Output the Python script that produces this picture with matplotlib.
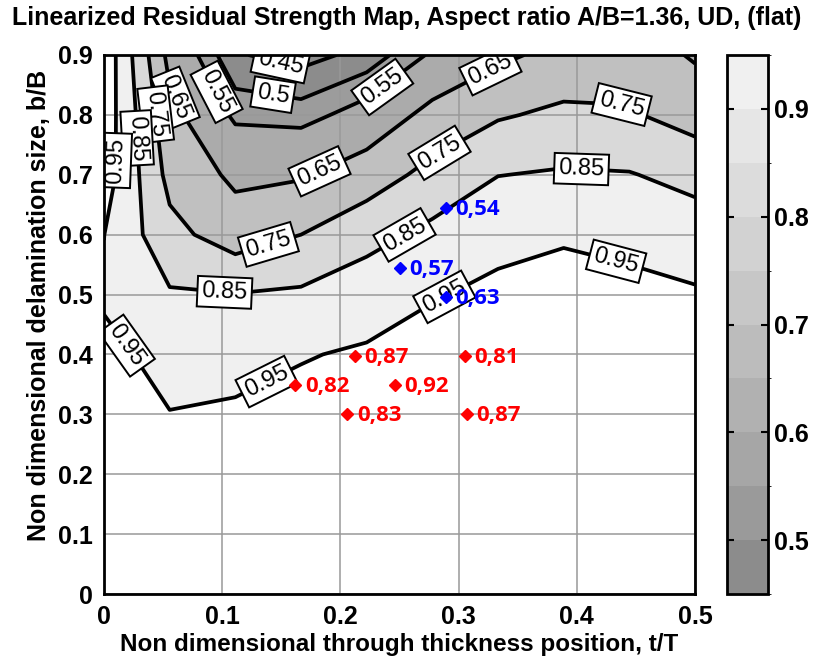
import numpy as np
import matplotlib
matplotlib.use('Agg')
import matplotlib.pyplot as plt
from matplotlib.colors import ListedColormap, BoundaryNorm
from matplotlib.cm import ScalarMappable

plt.rcParams['font.family'] = ['Liberation Sans', 'DejaVu Sans']

# ---- data -------------------------------------------------------------
t_T = [0.0, 1/18, 2/18, 3/18, 4/18, 5/18, 6/18, 7/18, 8/18, 9/18]
b_B = [0.0, 0.1, 0.2, 0.3, 0.4, 0.5, 0.6, 0.7, 0.8, 0.9]
# residual strength (rows: b/B, columns: t/T)
R_00 = [1.00, 1.00, 1.00, 1.00, 1.00, 1.00, 1.00, 1.00, 1.00, 1.00]
R_01 = [1.00, 1.00, 0.99, 0.99, 1.00, 1.00, 1.00, 1.00, 1.00, 1.00]
R_02 = [1.00, 0.98, 0.97, 0.98, 0.99, 1.00, 1.00, 1.00, 1.00, 1.00]
R_03 = [1.00, 0.952, 0.96, 0.975, 0.985, 0.99, 1.00, 1.00, 1.00, 1.00]
R_04 = [0.97, 0.925, 0.925, 0.945, 0.96, 0.98, 0.99, 1.00, 1.00, 1.00]
R_05 = [0.94, 0.86, 0.853, 0.865, 0.91, 0.945, 0.965, 0.985, 0.975, 0.96]
R_06 = [0.951, 0.78, 0.70, 0.75, 0.815, 0.875, 0.93, 0.94, 0.925, 0.90]
R_07 = [1.00, 0.72, 0.63, 0.64, 0.70, 0.78, 0.848, 0.86, 0.855, 0.82]
R_08 = [1.01, 0.68, 0.535, 0.525, 0.581, 0.68, 0.74, 0.77, 0.76, 0.71]
R_09 = [1.022, 0.62, 0.455, 0.43, 0.467, 0.56, 0.63, 0.68, 0.70, 0.64]

line_levels = [0.45, 0.5, 0.55, 0.65, 0.75, 0.85, 0.95]
fill_levels = [0.3, 0.45, 0.5, 0.55, 0.65, 0.75, 0.85, 0.95, 1.1]
fill_colors = ['#8c8c8c', '#8c8c8c', '#9c9c9c', '#ababab', '#c0c0c0',
               '#d9d9d9', '#f0f0f0', '#ffffff']

cbar_bounds = [0.45, 0.5, 0.55, 0.6, 0.65, 0.7, 0.75, 0.8, 0.85, 0.9, 0.95]
cbar_colors = ['#8c8c8c', '#9a9a9a', '#a6a6a6', '#b1b1b1', '#bcbcbc',
               '#c7c7c7', '#d2d2d2', '#dcdcdc', '#e6e6e6', '#f0f0f0']
cbar_ticks = [0.5, 0.6, 0.7, 0.8, 0.9]

blue_x = [0.289, 0.250, 0.289]
blue_y = [0.644, 0.544, 0.496]
blue_lbl = ['0,54', '0,57', '0,63']
red_x = [0.212, 0.305, 0.162, 0.246, 0.206, 0.307]
red_y = [0.397, 0.397, 0.349, 0.349, 0.300, 0.300]
red_lbl = ['0,87', '0,81', '0,82', '0,92', '0,83', '0,87']

label_pos = [(0.149, 0.885), (0.142, 0.821), (0.090, 0.833), (0.233, 0.853),
             (0.327, 0.875), (0.056, 0.825), (0.183, 0.703), (0.039, 0.80),
             (0.138, 0.591), (0.284, 0.736), (0.438, 0.821), (0.026, 0.761),
             (0.102, 0.504), (0.253, 0.604), (0.404, 0.713), (0.013, 0.724),
             (0.027, 0.426), (0.136, 0.361), (0.288, 0.496), (0.434, 0.561)]

# ---- figure -----------------------------------------------------------
fig = plt.figure(figsize=(8.14, 6.57), dpi=100)
ax = fig.add_axes([104/814, 63/657, 591/814, 539/657])

X, Y = np.meshgrid(np.array(t_T), np.array(b_B))
Z = np.array([R_00, R_01, R_02, R_03, R_04, R_05, R_06, R_07, R_08, R_09])

ax.contourf(X, Y, Z, levels=fill_levels, colors=fill_colors, zorder=1)
cs = ax.contour(X, Y, Z, levels=line_levels, colors='k', linewidths=2.7, zorder=3)
labels = ax.clabel(cs, fmt=lambda v: f'{v:g}', manual=label_pos, inline=True,
                   inline_spacing=3, fontsize=17)
for t in labels:
    t.set_bbox(dict(boxstyle='square,pad=0.18', fc='white', ec='black', lw=1.4))
    t.set_zorder(4)

ax.set_axisbelow(False)
ax.grid(True, color='#999999', lw=1.1, zorder=2.5)

mfont = ['Open Sans', 'DejaVu Sans']
ax.plot(blue_x, blue_y, 'D', color='#0000ff', ms=6.5, mec='#0000ff', zorder=6, ls='none')
for x, y, s in zip(blue_x, blue_y, blue_lbl):
    ax.annotate(s, (x, y), xytext=(7, -1), textcoords='offset points', color='#0000ff',
                fontsize=16, fontweight='bold', family=mfont,
                va='center', ha='left', zorder=6)
ax.plot(red_x, red_y, 'D', color='#ff0000', ms=6.5, mec='#ff0000', zorder=6, ls='none')
for x, y, s in zip(red_x, red_y, red_lbl):
    ax.annotate(s, (x, y), xytext=(7, -1), textcoords='offset points', color='#ff0000',
                fontsize=16, fontweight='bold', family=mfont,
                va='center', ha='left', zorder=6)

ax.set_xlim(0, 0.5)
ax.set_ylim(0, 0.9)
ax.set_xticks(np.arange(0, 0.51, 0.1))
ax.set_yticks(np.arange(0, 0.91, 0.1))
ax.set_xticklabels(['0', '0.1', '0.2', '0.3', '0.4', '0.5'])
ax.set_yticklabels(['0', '0.1', '0.2', '0.3', '0.4', '0.5', '0.6', '0.7', '0.8', '0.9'])
ax.tick_params(length=0, labelsize=18, pad=8)
for lab in ax.get_xticklabels() + ax.get_yticklabels():
    lab.set_fontweight('bold')
for sp in ax.spines.values():
    sp.set_linewidth(2)
    sp.set_zorder(7)

ax.set_xlabel('Non dimensional through thickness position, t/T', fontsize=17.5,
              fontweight='bold', labelpad=3)
ax.set_ylabel('Non dimensional delamination size, b/B', fontsize=18,
              fontweight='bold')
ax.yaxis.set_label_coords(-0.09, 0.535)
fig.text(0.5, 0.972, 'Linearized Residual Strength Map, Aspect ratio A/B=1.36, UD, (flat)',
         ha='center', va='center', fontsize=18, fontweight='bold')

# colorbar
cax = fig.add_axes([727/814, 63/657, 41/814, 539/657])
cmap = ListedColormap(cbar_colors)
norm = BoundaryNorm(cbar_bounds, cmap.N)
cb = fig.colorbar(ScalarMappable(norm=norm, cmap=cmap), cax=cax, ticks=cbar_ticks)
cb.outline.set_linewidth(2)
cax.tick_params(left=True, right=True, direction='in', length=5, width=1.5,
                labelsize=18, pad=4)
cax.set_yticklabels(['0.5', '0.6', '0.7', '0.8', '0.9'])
for lab in cax.get_yticklabels():
    lab.set_fontweight('bold')

fig.savefig('out.png', dpi=100)
